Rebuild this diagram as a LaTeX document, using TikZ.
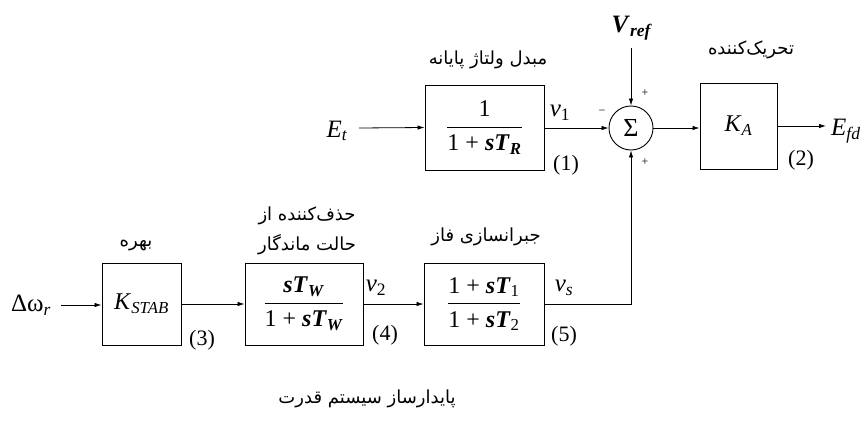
\documentclass[tikz,border=0pt]{standalone}
\usepackage{amsmath}
\usepackage{fontspec}
\setmainfont{Liberation Serif}
\newfontfamily\fa[Script=Arabic]{DejaVu Sans}
\TeXXeTstate=1
\usetikzlibrary{arrows.meta}
\newcommand{\bi}[1]{\textbf{\textit{#1}}}
\newcommand{\vi}[1]{\textit{#1}}
\begin{document}
\begin{tikzpicture}[x=1pt,y=-1pt,
  >={Latex[length=7pt,width=4.5pt]},
  blk/.style={draw,line width=0.9pt,inner sep=0pt,font=\fontsize{24}{28}\selectfont},
  wire/.style={line width=0.8pt},
  fa/.style={font=\fa\fontsize{18}{22}\selectfont,inner sep=0pt},
  lab/.style={font=\fontsize{25}{28}\selectfont,inner sep=0pt},
  num/.style={font=\fontsize{22}{26}\selectfont,inner sep=0pt},
  sgn/.style={font=\fontsize{12}{14}\selectfont,inner sep=0pt}]
\useasboundingbox (0,0) rectangle (866,423);

% top row
\node[blk,minimum width=119pt,minimum height=85pt] (b1) at (484.5,127.5)
  {$\dfrac{\text{1}}{\text{1 + \bi{sT}$_{\bi{R}}$}}$};
\node[circle,draw,line width=0.9pt,minimum size=44pt,inner sep=0pt] (sum) at (631,128)
  {\fontsize{26}{28}\selectfont Σ};
\node[blk,minimum width=77pt,minimum height=86pt] (ka) at (738.5,126)
  {\vi{K}$_{\vi{A}}$};

\node[lab] (et) at (337,131) {\vi{E}$_{\vi{t}}$};
\coordinate (etin) at (359,128);
\node[lab] (vref) at (632,28) {\bi{V}$_{\bi{ref}}$};
\coordinate (vrefo) at (631,48);
\node[lab,anchor=west] (efd) at (831,131) {\vi{E}$_{\vi{fd}}$};
\coordinate (efdin) at (826,127);

\node[lab] (v1) at (560,113) {\vi{v}$_{\text{1}}$};
\node[sgn] (m1) at (602,112) {−};
\node[sgn] (p1) at (645,93) {+};
\node[sgn] (p2) at (645,162) {+};
\node[num] (n1) at (566,165) {(1)};
\node[num] (n2) at (801,160) {(2)};

\node[fa] (l1) at (488,60) {\beginR مبدل ولتاژ پایانه\endR};
\node[fa] (l2) at (751,50) {\beginR تحریک‌کننده\endR};

% bottom row
\node[blk,minimum width=79pt,minimum height=82pt] (b3) at (141.5,304)
  {\vi{K}$_{\vi{STAB}}$};
\node[blk,minimum width=118pt,minimum height=82pt] (b4) at (304,304)
  {$\dfrac{\text{\bi{sT}$_{\bi{W}}$}}{\text{1 + \bi{sT}$_{\bi{W}}$}}$};
\node[blk,minimum width=120pt,minimum height=82pt] (b5) at (484,304)
  {$\dfrac{\text{1 + \bi{sT}$_{\text{1}}$}}{\text{1 + \bi{sT}$_{\text{2}}$}}$};

\node[lab] (dw) at (31,305) {Δω$_{\vi{r}}$};
\coordinate (dwo) at (61,305);

\node[lab] (v2) at (376,288) {\vi{v}$_{\text{2}}$};
\node[lab] (vs) at (564,288) {\vi{v}$_{\vi{s}}$};
\node[num] (n3) at (202,340) {(3)};
\node[num] (n4) at (385,335) {(4)};
\node[num] (n5) at (564,336) {(5)};

\node[fa] (l3) at (136,245) {\beginR بهره\endR};
\node[fa] (l4a) at (307,216) {\beginR حذف‌کننده از\endR};
\node[fa] (l4b) at (307,245) {\beginR حالت ماندگار\endR};
\node[fa] (l5) at (486,237) {\beginR جبرانسازی فاز\endR};
\node[fa] (l6) at (367,399) {\beginR پایدارساز سیستم قدرت\endR};

% wires
\draw[wire,->] (etin) -- (b1.west);
\draw[wire,->] (b1.east |- sum.west) -- (sum.west);
\draw[wire,->] (vrefo) -- (sum.north);
\draw[wire,->] (sum.east) -- (ka.west |- sum.east);
\draw[wire,->] (ka.east) -- (ka.east -| efdin);
\draw[wire,->] (dwo) -- (b3.west |- dwo);
\draw[wire,->] (b3.east) -- (b4.west);
\draw[wire,->] (b4.east) -- (b5.west);
\draw[wire,->] (b5.east) -| (sum.south);
\end{tikzpicture}
\end{document}
